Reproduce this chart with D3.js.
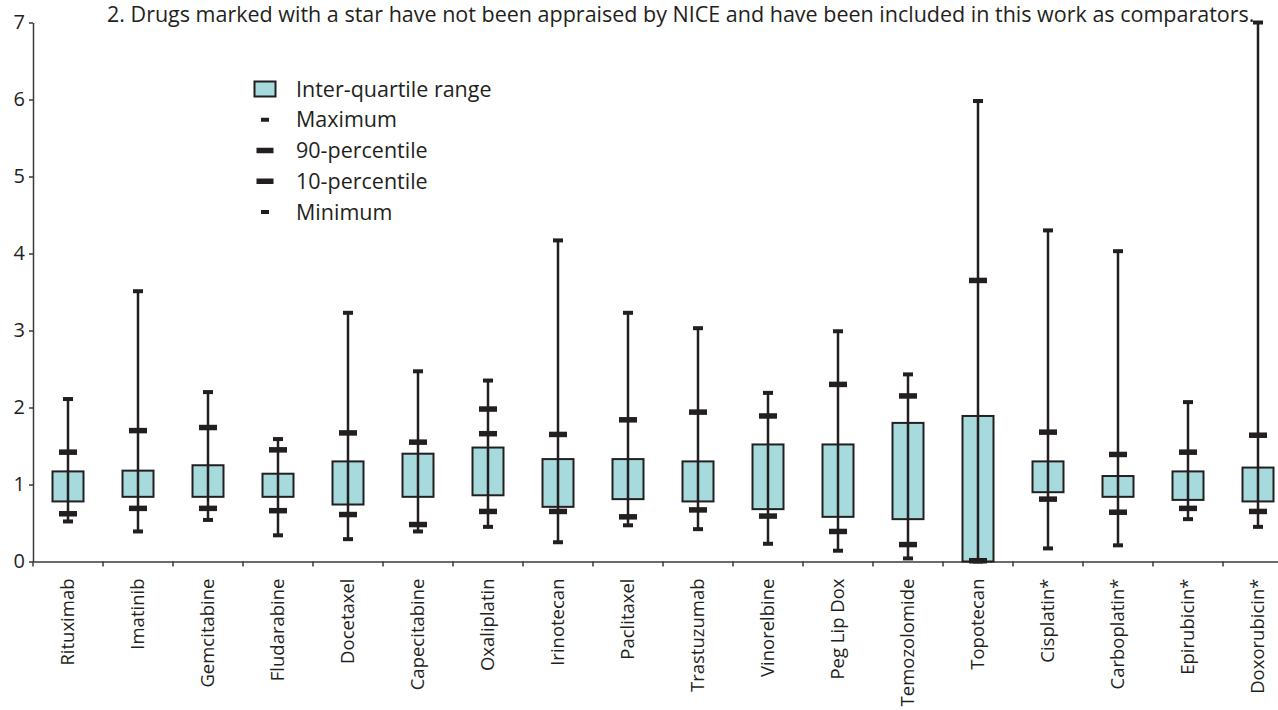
<!DOCTYPE html>
<html>
<head>
<meta charset="utf-8">
<script src="https://cdn.jsdelivr.net/npm/d3@7"></script>
<style>
    body { margin: 0; background: #fff; }
    svg { display: block; font-family: "Open Sans", "Noto Sans", sans-serif; }
    .axis path, .axis line { stroke: #3a3a3a; stroke-width: 1.5; }
    .axis text { fill: #231f20; }
</style>
</head>
<body>
<svg id="chart"></svg>
<script>
// drug names along the x axis
const drugs = ['Rituximab', 'Imatinib', 'Gemcitabine', 'Fludarabine', 'Docetaxel', 'Capecitabine',
    'Oxaliplatin', 'Irinotecan', 'Paclitaxel', 'Trastuzumab', 'Vinorelbine', 'Peg Lip Dox',
    'Temozolomide', 'Topotecan', 'Cisplatin*', 'Carboplatin*', 'Epirubicin*', 'Doxorubicin*'];

// summary values per drug
const maxVals = [2.11, 3.51, 2.20, 1.59, 3.23, 2.47, 2.35, 4.17, 3.23, 3.03, 2.19, 2.99, 2.43, 5.98, 4.30, 4.03, 2.07, 7.00];
const p90Vals = [1.42, 1.70, 1.74, 1.45, 1.67, 1.55, 1.98, 1.65, 1.84, 1.94, 1.89, 2.30, 2.15, 3.65, 1.68, 1.39, 1.42, 1.64];
const q3Vals  = [1.17, 1.18, 1.25, 1.14, 1.30, 1.40, 1.48, 1.33, 1.33, 1.30, 1.52, 1.52, 1.80, 1.89, 1.30, 1.11, 1.17, 1.22];
const q1Vals  = [0.78, 0.84, 0.84, 0.84, 0.74, 0.84, 0.86, 0.71, 0.81, 0.78, 0.68, 0.58, 0.55, 0.00, 0.90, 0.84, 0.80, 0.78];
const p10Vals = [0.62, 0.69, 0.69, 0.66, 0.61, 0.48, 0.65, 0.65, 0.58, 0.67, 0.59, 0.39, 0.22, 0.01, 0.81, 0.64, 0.69, 0.65];
const minVals = [0.52, 0.39, 0.54, 0.34, 0.29, 0.39, 0.45, 0.25, 0.47, 0.42, 0.23, 0.14, 0.04, 0.00, 0.17, 0.21, 0.55, 0.45];
// Oxaliplatin has one more thick mark above its box
const extraVals = [null, null, null, null, null, null, 1.66, null, null, null, null, null, null, null, null, null, null, null];

const yTicks = [0, 1, 2, 3, 4, 5, 6, 7];

const legendItems = [
    { label: 'Inter-quartile range', kind: 'box' },
    { label: 'Maximum', kind: 'thin' },
    { label: '90-percentile', kind: 'thick' },
    { label: '10-percentile', kind: 'thick' },
    { label: 'Minimum', kind: 'thin' }
];

const note = '2. Drugs marked with a star have not been appraised by NICE and have been included in this work as comparators.';

const W = 1278, H = 710;
const ink = '#231f20';
const boxFill = '#a6dadd';

const rows = drugs.map((name, i) => ({
    name,
    max: maxVals[i], p90: p90Vals[i], q3: q3Vals[i],
    q1: q1Vals[i], p10: p10Vals[i], min: minVals[i], extra: extraVals[i]
}));

const svg = d3.select('#chart').attr('width', W).attr('height', H);

const x = d3.scaleBand().domain(drugs).range([33, 1293]).paddingInner(0).paddingOuter(0);
const y = d3.scaleLinear().domain([0, 7]).range([561.5, 22.5]);

// axes
const yAxis = svg.append('g')
    .attr('class', 'axis y-axis')
    .attr('transform', 'translate(33,0)')
    .call(d3.axisLeft(y).tickValues(yTicks).tickFormat(d3.format('d'))
        .tickSize(4).tickPadding(4).tickSizeOuter(0));
yAxis.attr('font-family', null).attr('font-size', null);
yAxis.selectAll('text').style('font-size', '20px');

const xAxis = svg.append('g')
    .attr('class', 'axis x-axis')
    .attr('transform', `translate(0,${y(0)})`);
xAxis.call(d3.axisBottom(x).tickSize(0).tickSizeOuter(0).tickFormat(''));
xAxis.attr('font-family', null).attr('font-size', null);
// ticks sit on the category boundaries, not in the middle
const bounds = d3.range(drugs.length + 1).map(i => x(drugs[0]) + i * x.step());
xAxis.selectAll('.bound')
    .data(bounds)
    .join('line')
    .attr('class', 'bound')
    .attr('x1', d => d).attr('x2', d => d)
    .attr('y1', 0).attr('y2', 5);

xAxis.selectAll('.lbl')
    .data(drugs)
    .join('text')
    .attr('class', 'lbl')
    .attr('transform', d => `translate(${x(d) + x.bandwidth() / 2},17) rotate(-90)`)
    .attr('text-anchor', 'end')
    .attr('dy', '0.35em')
    .style('font-size', '18.5px')
    .text(d => d);

// box plots
const bw = 31;
const g = svg.append('g').attr('class', 'boxes');
const item = g.selectAll('.drug').data(rows).join('g')
    .attr('class', 'drug')
    .attr('transform', d => `translate(${x(d.name) + x.bandwidth() / 2},0)`);

item.append('rect')
    .attr('x', -bw / 2)
    .attr('width', bw)
    .attr('y', d => y(d.q3))
    .attr('height', d => y(d.q1) - y(d.q3))
    .attr('fill', boxFill)
    .attr('stroke', ink)
    .attr('stroke-width', 2);

item.append('line')
    .attr('x1', 0).attr('x2', 0)
    .attr('y1', d => y(d.min))
    .attr('y2', d => y(d.max))
    .attr('stroke', ink)
    .attr('stroke-width', 2.5);

function cap(sel, key, w, h) {
    sel.filter(d => d[key] != null).append('rect')
        .attr('x', -w / 2)
        .attr('width', w)
        .attr('y', d => y(d[key]) - h / 2)
        .attr('height', h)
        .attr('fill', ink);
}
cap(item, 'max', 10, 4);
cap(item, 'min', 10, 4);
cap(item, 'p90', 18, 5.5);
cap(item, 'p10', 18, 5.5);
cap(item, 'extra', 18, 5.5);

// legend
const legend = svg.append('g').attr('class', 'legend').attr('transform', 'translate(265,0)');
const ly = d3.scalePoint().domain(legendItems.map(d => d.label)).range([89, 212]);
legendItems.forEach(d => {
    const cy = ly(d.label);
    if (d.kind === 'box') {
        legend.append('rect').attr('x', -10.5).attr('y', cy - 7.5).attr('width', 21).attr('height', 15)
            .attr('fill', boxFill).attr('stroke', ink).attr('stroke-width', 2);
    } else {
        const w = d.kind === 'thick' ? 17 : 8;
        const h = d.kind === 'thick' ? 5.5 : 4;
        legend.append('rect').attr('x', -w / 2).attr('y', cy - h / 2).attr('width', w).attr('height', h).attr('fill', ink);
    }
    legend.append('text')
        .attr('x', 31)
        .attr('y', cy)
        .attr('dy', '0.35em')
        .style('font-size', '21.5px')
        .attr('fill', ink)
        .text(d.label);
});

// note at the top
svg.append('text')
    .attr('x', 107)
    .attr('y', 22)
    .style('font-size', '21.5px')
    .attr('fill', ink)
    .text(note);
</script>
</body>
</html>
